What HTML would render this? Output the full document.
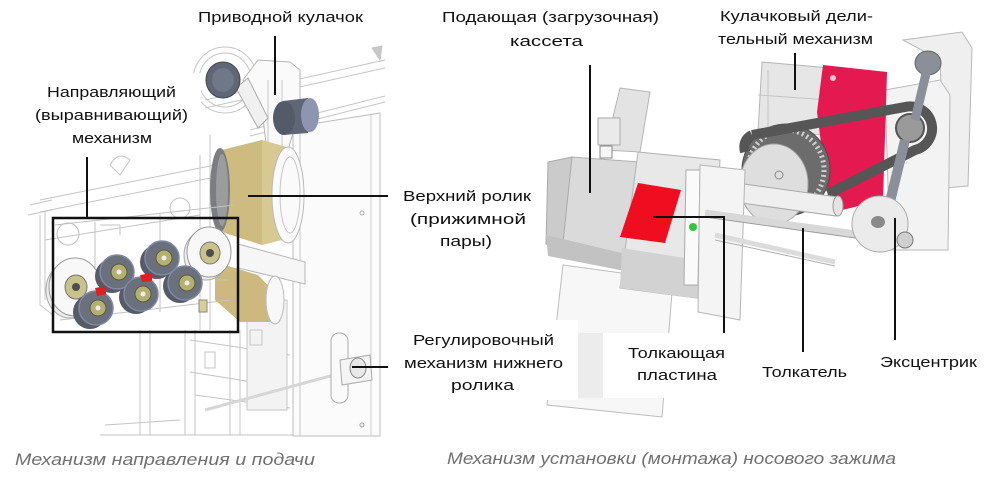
<!DOCTYPE html>
<html><head><meta charset="utf-8"><style>
html,body{margin:0;padding:0;background:#fff;}
svg{display:block;}
.t{font-family:"Liberation Sans","Noto Sans CJK SC",sans-serif;font-size:15px;fill:#111;}
.c{font-family:"Liberation Sans","Noto Sans CJK SC",sans-serif;font-size:17px;font-style:italic;fill:#707070;}
</style></head><body>
<svg width="994" height="486" viewBox="0 0 994 486" xmlns="http://www.w3.org/2000/svg">
<rect width="994" height="486" fill="#fff"/>

<!-- ================= LEFT DRAWING ================= -->
<g fill="none" stroke="#c4c4c4" stroke-width="1">
  <path d="M205 100 L385 60 M205 108 L385 68 M250 130 L385 96 M250 136 L385 102"/>
  <path d="M372 48 L382 46 L380 60 Z" fill="#c8c8c8"/>
  <ellipse cx="225" cy="80" rx="32" ry="33"/>
  <ellipse cx="225" cy="80" rx="26" ry="27"/>
  <path d="M40 200 L290 150 M40 212 L290 162 M45 240 L200 215"/>
  <path d="M30 205 L52 200 M28 215 L52 210"/>
  <path d="M40 215 L40 305 L53 315 M45 212 L45 300"/>
  <path d="M200 140 L200 330 M210 135 L210 330"/>
  <path d="M140 330 L140 435 M150 330 L150 435 M185 330 L185 435 M195 330 L195 435 M230 330 L230 435 M240 330 L240 435"/>
  <path d="M100 435 L380 435 M105 425 L180 420"/>
  <path d="M190 340 L290 355 M190 372 L290 388 M195 395 L290 408"/>
  <rect x="247" y="300" width="40" height="110" fill="#f3f3f3"/>
  <path d="M250 330 L262 330 L262 345 L250 345 Z M205 352 L215 352 L215 368 L205 368 Z"/>
  <path d="M110 165 Q118 150 130 160 L120 175 Z"/>
</g>
<path d="M293 127 L380 113 L380 436 L293 436 Z" fill="#fbfbfb" stroke="#bdbdbd"/>
<path d="M300 126 L300 436" stroke="#c9c9c9"/>
<path d="M371 115 L371 436" stroke="#d0d0d0"/>
<circle cx="362" cy="213" r="2" fill="none" stroke="#aaa"/>
<circle cx="362" cy="425" r="2" fill="none" stroke="#aaa"/>

<path d="M258 60 L290 62 L300 70 L300 110 L285 160 L268 160 L262 110 L243 80 Z" fill="#fafafa" stroke="#b5b5b5"/>
<path d="M268 80 L268 160 M282 80 L282 155" stroke="#c6c6c6"/>
<path d="M236 88 L248 78 L268 118 L258 128 Z" fill="#f0f0f0" stroke="#aaa"/>

<ellipse cx="223" cy="80" rx="17" ry="18" fill="#5f6776" stroke="#3f4550"/>
<ellipse cx="223" cy="80" rx="11" ry="12" fill="#6f7888"/>
<path d="M283 101 L308 98 L308 133 L283 135 Z" fill="#5f6675"/>
<ellipse cx="284" cy="118" rx="11" ry="17" fill="#535a68"/>
<ellipse cx="310" cy="115" rx="9" ry="17" fill="#8d95b0"/>

<path d="M222 150 L262 140 L290 148 L290 238 L262 245 L222 232 Z" fill="#d8c892"/>
<path d="M222 150 L262 140 L262 245 L222 232 Z" fill="#cdbb80"/>
<ellipse cx="220" cy="190" rx="10" ry="42" fill="#7b7d80"/>
<ellipse cx="222" cy="190" rx="6" ry="36" fill="#9a9c9e"/>
<ellipse cx="288" cy="195" rx="16" ry="48" fill="#fafafa" stroke="#b9b9b9"/>
<ellipse cx="290" cy="195" rx="10" ry="38" fill="none" stroke="#c6c6c6"/>
<path d="M238 244 L305 262 L305 284 L238 268 Z" fill="#f6f6f6" stroke="#b7b7b7"/>
<path d="M215 262 L258 275 L282 300 L280 322 L240 322 L215 300 Z" fill="#cdb97e"/>
<ellipse cx="275" cy="300" rx="9" ry="24" fill="#f8f8f8" stroke="#bbb"/>

<g fill="none" stroke="#c2c2c2">
  <path d="M55 225 L235 205 M60 320 L230 300 M95 222 L95 320 M160 214 L160 312"/>
  <circle cx="68" cy="234" r="11"/>
  <circle cx="180" cy="208" r="10"/>
  <path d="M100 225 L120 225 L120 235 M215 280 L228 280"/>
</g>
<ellipse cx="70" cy="290" rx="24" ry="28" fill="#eeeeee" stroke="#aaa"/>
<ellipse cx="75" cy="287" rx="26" ry="29" fill="#f8f8f8" stroke="#999"/>
<ellipse cx="76" cy="287" rx="11" ry="12" fill="#c8c38c" stroke="#777"/>
<circle cx="76" cy="287" r="4" fill="#4e4e4e"/>
<ellipse cx="206" cy="255" rx="22" ry="25" fill="#eeeeee" stroke="#aaa"/>
<ellipse cx="209" cy="252" rx="22" ry="25" fill="#f8f8f8" stroke="#999"/>
<ellipse cx="210" cy="253" rx="10" ry="11" fill="#c8c38c" stroke="#777"/>
<circle cx="210" cy="253" r="4" fill="#4e4e4e"/>
<g fill="#565b66">
  <circle cx="112" cy="276" r="17"/>
  <circle cx="157" cy="262" r="17"/>
  <circle cx="136" cy="297" r="17"/>
  <circle cx="180" cy="286" r="17"/>
  <circle cx="90" cy="312" r="17"/>
</g>
<g stroke="#8088a8" stroke-width="1.5" fill="#6a707c">
  <circle cx="117" cy="272" r="17"/>
  <circle cx="162" cy="258" r="17"/>
  <circle cx="141" cy="294" r="17"/>
  <circle cx="185" cy="283" r="17"/>
  <circle cx="96" cy="308" r="17"/>
</g>
<g fill="#b5b070" stroke="#5a5a40">
  <circle cx="119" cy="272" r="8"/>
  <circle cx="164" cy="258" r="8"/>
  <circle cx="143" cy="294" r="8"/>
  <circle cx="187" cy="283" r="8"/>
  <circle cx="98" cy="308" r="8"/>
</g>
<g fill="#eee">
  <circle cx="119" cy="272" r="2.5"/><circle cx="164" cy="258" r="2.5"/><circle cx="143" cy="294" r="2.5"/><circle cx="187" cy="283" r="2.5"/><circle cx="98" cy="308" r="2.5"/>
</g>
<path d="M95 288 L106 286 L106 294 L97 296 Z" fill="#e01e1e"/>
<path d="M140 275 L152 273 L152 281 L142 282 Z" fill="#e01e1e"/>
<rect x="199" y="300" width="8" height="12" fill="#d6cf98" stroke="#888"/>

<path d="M205 410 L345 372" stroke="#d6d6d6" stroke-width="3"/>
<rect x="331" y="333" width="17" height="70" rx="8" fill="#fafafa" stroke="#aaa"/>
<path d="M340 360 L370 355 L372 380 L342 385 Z" fill="#f4f4f4" stroke="#aaa"/>
<ellipse cx="358" cy="368" rx="8" ry="10" fill="#e8e8e8" stroke="#888"/>

<rect x="0" y="73" width="201" height="82" fill="#fff"/>

<!-- ================= RIGHT DRAWING ================= -->
<path d="M903 40 L962 32 L972 48 L968 186 L945 188 L940 60 Z" fill="#efefef" stroke="#b8b8b8"/>
<path d="M885 90 L940 80 L950 95 L948 250 L890 250 Z" fill="#f3f3f3" stroke="#b8b8b8"/>
<ellipse cx="928" cy="63" rx="13" ry="12" fill="#8a8f99" stroke="#666"/>
<path d="M762 62 L830 68 L835 135 L758 132 Z" fill="#e6e6e6" stroke="#b5b5b5"/>
<path d="M758 95 L830 100 M768 70 L768 130" stroke="#c5c5c5" fill="none"/>
<path d="M823 65 L887 72 L883 200 L830 213 L817 112 Z" fill="#e3194f"/>
<circle cx="833" cy="78" r="3" fill="#f4c4d2"/>
<ellipse cx="786" cy="170" rx="44" ry="46" fill="#6c6c6c" stroke="#4c4c4c"/>
<ellipse cx="786" cy="170" rx="38" ry="40" fill="none" stroke="#cfcfcf" stroke-width="5" stroke-dasharray="2 3"/>
<ellipse cx="774" cy="184" rx="34" ry="40" fill="#dedede" stroke="#a5a5a5"/>
<circle cx="779" cy="175" r="4" fill="none" stroke="#888"/>
<path d="M752 135 L905 107 A22 22 0 0 1 915 150 L828 194" fill="none" stroke="#565656" stroke-width="10"/>
<path d="M752 135 Q742 140 745 152" fill="none" stroke="#565656" stroke-width="10"/>
<circle cx="910" cy="128" r="14" fill="#9a9a9a" stroke="#555" stroke-width="2"/>
<path d="M928 65 L915 120" stroke="#8a8f99" stroke-width="9"/>
<path d="M905 140 L888 210" stroke="#8a8f99" stroke-width="10"/>
<path d="M700 178 L838 197 L836 216 L698 197 Z" fill="#efefef" stroke="#a9a9a9"/>
<ellipse cx="838" cy="206" rx="5" ry="10" fill="#e4e4e4" stroke="#999"/>

<!-- lower white plate (behind cassette) -->
<path d="M563 265 L673 280 L662 417 L547 405 Z" fill="#f7f7f7" stroke="#bcbcbc"/>

<!-- cassette -->
<path d="M620 88 L650 92 L640 152 L605 150 Z" fill="#e3e3e3" stroke="#b5b5b5"/>
<path d="M598 118 L620 118 L620 145 L598 145 Z" fill="#eaeaea" stroke="#aaa"/>
<rect x="600" y="146" width="12" height="12" fill="#f6f6f6" stroke="#888"/>
<path d="M572 157 L640 162 L635 262 L560 252 Z" fill="#dadada" stroke="#b0b0b0"/>
<path d="M548 162 L572 157 L562 252 L546 244 Z" fill="#cbcbcb" stroke="#aaa"/>
<path d="M546 235 L630 255 L630 272 L548 256 Z" fill="#c2c2c2"/>
<path d="M638 152 L720 160 L712 300 L620 288 Z" fill="#e8e8e8" stroke="#b2b2b2"/>
<path d="M622 248 L710 262 L708 300 L620 288 Z" fill="#d2d2d2"/>
<path d="M686 170 L700 170 L698 285 L684 285 Z" fill="#fafafa" stroke="#aaa"/>
<path d="M700 165 L745 170 L740 320 L698 312 Z" fill="#f4f4f4" stroke="#b5b5b5"/>
<path d="M638 183 L681 190 L665 243 L620 237 Z" fill="#f00d1f"/>
<circle cx="693" cy="227" r="4" fill="#2fc83d"/>
<path d="M705 213 L870 236" stroke="#d8d8d8" stroke-width="7"/>
<path d="M705 217 L870 240" stroke="#9a9a9a" stroke-width="1"/>
<path d="M715 235 L835 262" stroke="#dcdcdc" stroke-width="5"/>
<path d="M715 240 L835 266" stroke="#b0b0b0" stroke-width="1"/>
<circle cx="880" cy="224" r="28" fill="#ebebeb" stroke="#aaa"/>
<ellipse cx="878" cy="222" rx="7" ry="6" fill="#8a8a8a"/>
<circle cx="905" cy="240" r="8" fill="#cfcfcf" stroke="#777"/>

<!-- label backgrounds -->
<rect x="395" y="320" width="183" height="80" fill="#fff"/>
<rect x="603" y="333" width="150" height="65" fill="#fff"/>
<path d="M578 333 L603 333 L603 398 L578 398 Z" fill="#ececec"/>

<!-- ================= CONNECTOR LINES ================= -->
<g stroke="#111" stroke-width="2" fill="none">
  <path d="M275 36 L275 95"/>
  <path d="M87 157 L87 217"/>
  <rect x="53" y="218" width="185" height="114" stroke-width="2.5"/>
  <path d="M248 196 L388 196"/>
  <path d="M352 367 L388 367"/>
  <path d="M590 65 L590 193"/>
  <path d="M795 53 L795 90"/>
  <path d="M653 217 L724 217 L724 333"/>
  <path d="M803 228 L803 352"/>
  <path d="M895 218 L895 340"/>
</g>

<!-- ================= LABELS ================= -->
<text class="t" x="198" y="22" textLength="165" lengthAdjust="spacingAndGlyphs">Приводной кулачок</text>
<text class="t" x="47" y="97" textLength="129" lengthAdjust="spacingAndGlyphs">Направляющий</text>
<text class="t" x="35" y="120" textLength="153" lengthAdjust="spacingAndGlyphs">(выравнивающий)</text>
<text class="t" x="72" y="143" textLength="80" lengthAdjust="spacingAndGlyphs">механизм</text>

<text class="t" x="442" y="22" textLength="217" lengthAdjust="spacingAndGlyphs">Подающая (загрузочная)</text>
<text class="t" x="510" y="46" textLength="73" lengthAdjust="spacingAndGlyphs">кассета</text>

<text class="t" x="720" y="21" textLength="153" lengthAdjust="spacingAndGlyphs">Кулачковый дели-</text>
<text class="t" x="718" y="44" textLength="155" lengthAdjust="spacingAndGlyphs">тельный механизм</text>

<text class="t" x="403" y="201" textLength="128" lengthAdjust="spacingAndGlyphs">Верхний ролик</text>
<text class="t" x="410" y="224" textLength="116" lengthAdjust="spacingAndGlyphs">(прижимной</text>
<text class="t" x="440" y="246" textLength="52" lengthAdjust="spacingAndGlyphs">пары)</text>

<text class="t" x="413" y="345" textLength="141" lengthAdjust="spacingAndGlyphs">Регулировочный</text>
<text class="t" x="404" y="368" textLength="159" lengthAdjust="spacingAndGlyphs">механизм нижнего</text>
<text class="t" x="451" y="390" textLength="63" lengthAdjust="spacingAndGlyphs">ролика</text>

<text class="t" x="628" y="358" textLength="97" lengthAdjust="spacingAndGlyphs">Толкающая</text>
<text class="t" x="637" y="380" textLength="80" lengthAdjust="spacingAndGlyphs">пластина</text>
<text class="t" x="762" y="377" textLength="85" lengthAdjust="spacingAndGlyphs">Толкатель</text>
<text class="t" x="880" y="367" textLength="97" lengthAdjust="spacingAndGlyphs">Эксцентрик</text>

<text class="c" x="15" y="465" textLength="300" lengthAdjust="spacingAndGlyphs">Механизм направления и подачи</text>
<text class="c" x="447" y="464" textLength="449" lengthAdjust="spacingAndGlyphs">Механизм установки (монтажа) носового зажима</text>
</svg>
</body></html>
